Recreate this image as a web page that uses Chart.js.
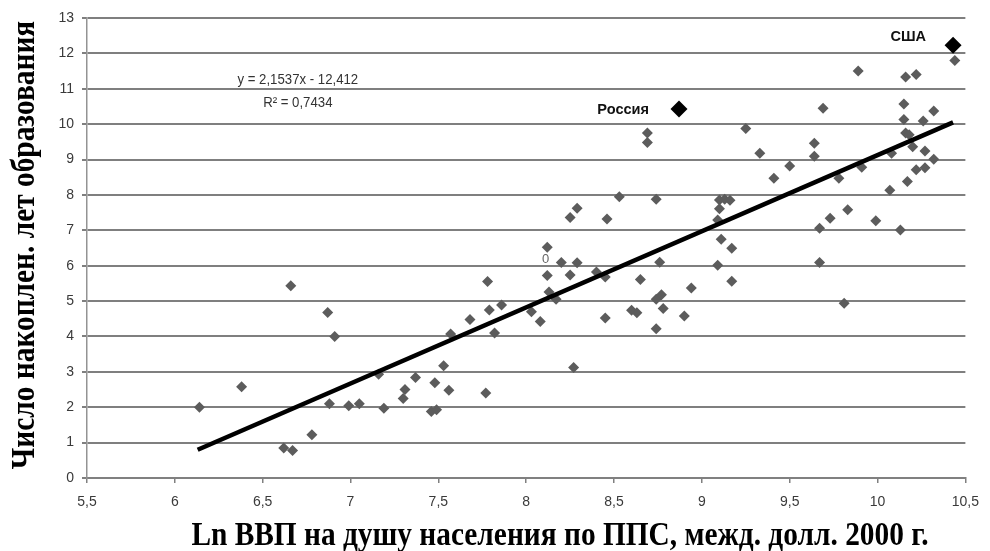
<!DOCTYPE html>
<html>
<head>
<meta charset="utf-8">
<script src="https://cdn.jsdelivr.net/npm/chart.js@4.4.1/dist/chart.umd.min.js"></script>
<style>
  html, body { margin: 0; padding: 0; background: #fff; }
  #wrap { width: 990px; height: 551px; }
</style>
</head>
<body>
<div id="wrap"><canvas id="scatterChart"></canvas></div>
<script>
// ==================== DATA ====================
// Ln GDP per capita (PPP, 2000 intl $) vs. accumulated years of schooling
const countryX = [
    6.14, 6.38, 6.66, 6.87, 6.91, 6.88, 6.99, 7.05, 7.19, 7.16, 6.62, 6.67, 6.78,
    7.30, 7.31, 7.37, 7.46, 7.49, 7.48, 7.53, 7.56, 7.57, 7.68, 7.77, 7.78, 7.79,
    7.82, 7.86, 8.03, 8.08, 8.12, 8.12, 8.13, 8.17, 8.20, 8.25, 8.29, 8.25, 8.29,
    8.27, 8.40, 8.45, 8.45, 8.46, 8.53, 8.65, 8.60, 8.63, 8.74, 8.76, 8.74, 8.77,
    8.78, 8.74, 8.90, 8.94, 8.69, 8.69,
    10.44, 9.89, 10.16, 10.22, 10.15, 9.69, 10.15, 10.26, 10.32, 10.16, 10.18,
    10.20, 10.27, 10.32, 10.22, 10.27, 10.08, 10.17, 10.07, 9.99, 10.13, 9.91,
    9.78, 9.83, 9.73, 9.67, 9.67, 9.81, 9.64, 9.64, 9.50, 9.41, 9.33, 9.25,
    9.10, 9.13, 9.16, 9.10, 9.09, 9.11, 9.17, 9.09, 9.17
];
const countryY = [
    2.00, 2.58, 5.43, 4.68, 4.00, 2.10, 2.04, 2.10, 1.97, 2.93, 0.85, 0.78, 1.22,
    2.25, 2.50, 2.84, 1.88, 1.93, 2.69, 3.17, 2.48, 4.07, 4.48, 2.40, 5.55, 4.75,
    4.10, 4.89, 4.70, 4.42, 6.52, 5.72, 5.26, 5.05, 6.09, 5.74, 6.08, 7.36, 7.62,
    3.12, 5.82, 5.68, 4.52, 7.32, 7.95, 5.61, 4.74, 4.67, 7.88, 6.10, 5.05, 5.18,
    4.79, 4.22, 4.58, 5.37, 9.75, 9.48,
    11.80, 11.50, 11.33, 11.40, 10.57, 10.45, 10.13, 10.09, 10.37, 9.75, 9.70,
    9.36, 9.24, 9.01, 8.71, 8.77, 9.18, 8.38, 8.13, 7.27, 7.01, 8.78,
    8.47, 7.58, 7.34, 7.06, 6.09, 4.94, 9.46, 9.09, 8.82, 8.47, 9.18, 9.88,
    7.86, 7.88, 7.85, 7.61, 7.29, 6.75, 6.49, 6.01, 5.56
];

const highlightNames = ['Россия', 'США'];
const highlightX = [8.87, 10.43];
const highlightY = [10.43, 12.23];

// linear trend, endpoints
const trendX = [6.13, 10.43];
const trendY = [0.80, 10.05];
const trendLabel = ['y = 2,1537x - 12,412', 'R² = 0,7434'];

const xTicks = [5.5, 6, 6.5, 7, 7.5, 8, 8.5, 9, 9.5, 10, 10.5];
const yTicks = [0, 1, 2, 3, 4, 5, 6, 7, 8, 9, 10, 11, 12, 13];

const xTitle = 'Ln ВВП на душу населения по ППС, межд. долл. 2000 г.';
const yTitle = 'Число накоплен. лет образования';

// ==================== HELPERS ====================
const toPoints = (xs, ys) => xs.map((x, i) => ({ x: x, y: ys[i] }));
const fmtComma = v => String(v).replace('.', ',');

// tall, slightly condensed text like the scanned original
function drawNarrow(ctx, text, x, y, squeeze) {
    ctx.save();
    ctx.translate(x, y);
    ctx.scale(squeeze, 1);
    ctx.fillText(text, 0, 0);
    ctx.restore();
}

// text overlays: trend equation, country names, axis titles
const overlayPlugin = {
    id: 'overlay',
    afterDatasetsDraw: function(chart) {
        const ctx = chart.ctx;
        const sx = chart.scales.x;
        const sy = chart.scales.y;
        ctx.save();

        // equation
        ctx.fillStyle = '#333';
        ctx.font = '15px "Liberation Sans", Arial, sans-serif';
        ctx.textAlign = 'center';
        ctx.textBaseline = 'middle';
        const ex = sx.getPixelForValue(6.70);
        drawNarrow(ctx, trendLabel[0], ex, sy.getPixelForValue(11.25), 0.88);
        drawNarrow(ctx, trendLabel[1], ex, sy.getPixelForValue(10.6), 0.88);

        // country names
        ctx.fillStyle = '#111';
        ctx.font = 'bold 15px "Liberation Sans", Arial, sans-serif';
        ctx.textAlign = 'right';
        drawNarrow(ctx, highlightNames[0], sx.getPixelForValue(highlightX[0]) - 30, sy.getPixelForValue(highlightY[0]) + 1, 0.97);
        drawNarrow(ctx, highlightNames[1], sx.getPixelForValue(highlightX[1]) - 27, sy.getPixelForValue(highlightY[1]) - 8, 0.97);

        // stray "0" label in the cluster
        ctx.fillStyle = '#666';
        ctx.font = '13px "Liberation Sans", Arial, sans-serif';
        ctx.textAlign = 'center';
        ctx.fillText('0', sx.getPixelForValue(8.11), sy.getPixelForValue(6.18));
        ctx.restore();
    },
    afterDraw: function(chart) {
        const ctx = chart.ctx;
        ctx.save();
        ctx.fillStyle = '#000';
        ctx.font = 'bold 33px "Liberation Serif", "Times New Roman", serif';
        ctx.textAlign = 'center';
        ctx.textBaseline = 'middle';
        drawNarrow(ctx, xTitle, 560, 536, 0.89);

        ctx.translate(25, 245);
        ctx.rotate(-Math.PI / 2);
        drawNarrow(ctx, yTitle, 0, 0, 0.89);
        ctx.restore();
    }
};

// ==================== CHART ====================
const ctx = document.getElementById('scatterChart');

new Chart(ctx, {
    type: 'scatter',
    data: {
        datasets: [
            {
                label: 'Страны',
                data: toPoints(countryX, countryY),
                pointStyle: 'rectRot',
                pointRadius: 5.5,
                backgroundColor: '#5c5c5c',
                borderColor: '#5c5c5c',
                borderWidth: 0,
                order: 3
            },
            {
                label: 'Тренд',
                type: 'line',
                data: toPoints(trendX, trendY),
                borderColor: '#000',
                borderWidth: 4.5,
                pointRadius: 0,
                fill: false,
                order: 2
            },
            {
                label: 'Россия, США',
                data: toPoints(highlightX, highlightY),
                pointStyle: 'rectRot',
                pointRadius: 8.5,
                backgroundColor: '#000',
                borderColor: '#000',
                borderWidth: 0,
                order: 1
            }
        ]
    },
    options: {
        responsive: true,
        maintainAspectRatio: false,
        animation: false,
        events: [],
        layout: { padding: { left: 0, right: 23, top: 18, bottom: 0 } },
        plugins: {
            legend: { display: false },
            tooltip: { enabled: false }
        },
        scales: {
            x: {
                type: 'linear',
                min: 5.5,
                max: 10.5,
                afterBuildTicks: s => { s.ticks = xTicks.map(v => ({ value: v })); },
                afterFit: s => { s.height = 73; },
                grid: {
                    drawOnChartArea: false,
                    drawTicks: true,
                    tickLength: 5,
                    color: '#808080',
                    lineWidth: 1.5
                },
                border: { display: true, color: '#808080', width: 2 },
                ticks: {
                    color: '#3a3a3a',
                    padding: 11,
                    maxRotation: 0,
                    font: { family: '"Liberation Sans", Arial', size: 14 },
                    callback: fmtComma
                }
            },
            y: {
                type: 'linear',
                min: 0,
                max: 13,
                afterBuildTicks: s => { s.ticks = yTicks.map(v => ({ value: v })); },
                afterFit: s => { s.width = 87; },
                grid: {
                    color: '#7f7f7f',
                    lineWidth: 2,
                    drawTicks: true,
                    tickLength: 5
                },
                border: { display: true, color: '#939393', width: 1.5 },
                ticks: {
                    color: '#3a3a3a',
                    padding: 8,
                    font: { family: '"Liberation Sans", Arial', size: 14 },
                    callback: fmtComma
                }
            }
        }
    },
    plugins: [overlayPlugin]
});
</script>
</body>
</html>
